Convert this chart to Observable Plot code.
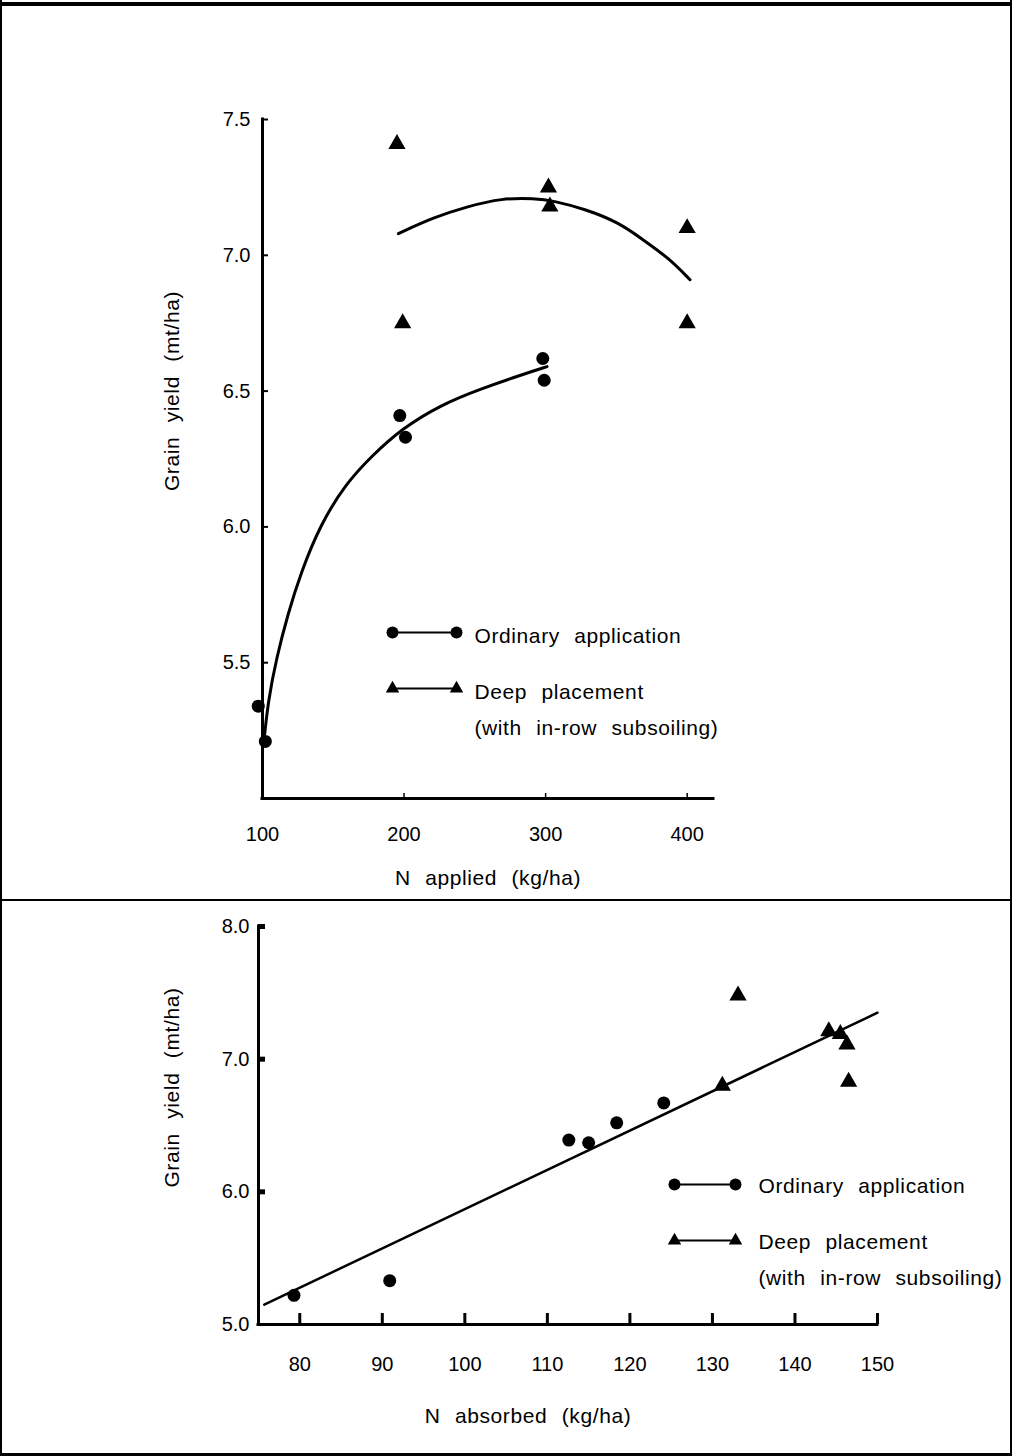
<!DOCTYPE html>
<html><head><meta charset="utf-8">
<script src="https://cdn.jsdelivr.net/npm/d3@7"></script>
<script src="https://cdn.jsdelivr.net/npm/@observablehq/plot@0.6"></script>
<style>
html,body{margin:0;padding:0;background:#fff;}
#page{position:relative;width:1012px;height:1456px;overflow:hidden;background:#fff;}
#page svg{position:absolute;left:0;}
.bar{position:absolute;background:#000;}
</style></head><body><div id="page"></div>
<script>
// ---------- Panel A: N applied ----------
const appliedOrdX = [97, 102, 197, 201, 298, 299];
const appliedOrdY = [5.34, 5.21, 6.41, 6.33, 6.62, 6.54];
const appliedDeepX = [195, 199, 302, 303, 400, 400];
const appliedDeepY = [7.41, 6.75, 7.25, 7.18, 7.10, 6.75];
const appliedOrdCurveX = [101, 104, 110, 118, 127, 141, 159, 177, 198, 226, 255, 283, 301];
const appliedOrdCurveY = [5.21, 5.36, 5.52, 5.68, 5.83, 6.01, 6.16, 6.26, 6.36, 6.45, 6.51, 6.56, 6.59];
const appliedDeepCurveX = [196, 221, 245, 269, 292, 306, 328, 352, 368, 387, 402];
const appliedDeepCurveY = [7.08, 7.14, 7.18, 7.21, 7.21, 7.20, 7.17, 7.12, 7.06, 6.99, 6.91];
const appliedXTicks = [100, 200, 300, 400];
const appliedYTicks = [5.5, 6.0, 6.5, 7.0, 7.5];

// ---------- Panel B: N absorbed ----------
const absorbedOrdX = [79.3, 90.9, 112.6, 115.0, 118.4, 124.1];
const absorbedOrdY = [5.22, 5.33, 6.39, 6.37, 6.52, 6.67];
const absorbedDeepX = [133.1, 131.2, 144.1, 145.5, 146.3, 146.5];
const absorbedDeepY = [7.48, 6.80, 7.21, 7.19, 7.11, 6.83];
const absorbedFitX = [75.7, 150];
const absorbedFitY = [5.15, 7.35];
const absorbedXTicks = [80, 90, 100, 110, 120, 130, 140, 150];
const absorbedYTicks = [5.0, 6.0, 7.0, 8.0];

// ---------- Legend ----------
const legendKeys = ["ord", "deep"];
const legendLabels = ["Ordinary application", "Deep placement\n(with in-row subsoiling)"];

const yTitle = "Grain yield (mt/ha)";
const xTitleA = "N applied (kg/ha)";
const xTitleB = "N absorbed (kg/ha)";

const zip = (xs, ys) => xs.map((x, i) => ({x, y: ys[i]}));
const font = "'Liberation Sans', Arial, sans-serif";
const baseStyle = {fontFamily: font, fontSize: "20px", color: "#000", background: "transparent", overflow: "visible", letterSpacing: "0.6px", wordSpacing: "8px"};
const page = document.getElementById("page");

function place(svg, topPx) {
  svg.style.top = topPx + "px";
  d3.select(svg).selectAll('g[aria-label$="tick label"]').style("letter-spacing", "0px").style("word-spacing", "0px");
  page.appendChild(svg);
}

// Panel A
const frameWA = 451, frameHA = 679;
const plotA = Plot.plot({
  width: 1012, height: 900,
  marginLeft: 262, marginRight: 299, marginTop: 119, marginBottom: 102,
  x: {domain: [100, 418.6], label: null},
  y: {domain: [5.0, 7.5], label: null},
  style: baseStyle,
  marks: [
    Plot.axisX({ticks: appliedXTicks, tickSize: 0, tickPadding: 28, tickFormat: d => String(d), label: null}),
    Plot.axisY({ticks: appliedYTicks, tickSize: 0, tickPadding: 12, tickFormat: d3.format(".1f"), label: null}),
    Plot.tickY(appliedYTicks, {y: d => d, insetRight: frameWA - 6, strokeWidth: 2}),
    Plot.tickX(appliedXTicks.slice(1), {x: d => d, insetTop: frameHA - 5, strokeWidth: 1.5}),
    Plot.ruleX([100], {strokeWidth: 3, strokeLinecap: "square"}),
    Plot.ruleY([5.0], {strokeWidth: 3, strokeLinecap: "square"}),
    Plot.line(zip(appliedOrdCurveX, appliedOrdCurveY), {x: "x", y: "y", curve: "basis", strokeWidth: 3}),
    Plot.line(zip(appliedDeepCurveX, appliedDeepCurveY), {x: "x", y: "y", curve: "basis", strokeWidth: 3}),
    Plot.dot(zip(appliedOrdX, appliedOrdY), {x: "x", y: "y", r: 6.5, fill: "#000", stroke: null}),
    Plot.dot(zip(appliedDeepX, appliedDeepY), {x: "x", y: "y", symbol: "triangle", r: 6.4, fill: "#000", stroke: null}),
    Plot.text([yTitle], {frameAnchor: "left", textAnchor: "middle", dx: -90, dy: -68, rotate: -90, fontSize: 21}),
    Plot.text([xTitleA], {frameAnchor: "bottom", dy: 86, fontSize: 21})
  ]
});
place(plotA, 0);

// Panel B
const frameWB = 619, frameHB = 398;
const plotB = Plot.plot({
  width: 1012, height: 556,
  marginLeft: 258, marginRight: 135, marginTop: 26, marginBottom: 132,
  x: {domain: [75, 150], label: null},
  y: {domain: [5.0, 8.0], label: null},
  style: baseStyle,
  marks: [
    Plot.axisX({ticks: absorbedXTicks, tickSize: 0, tickPadding: 32, tickFormat: d => String(d), label: null}),
    Plot.axisY({ticks: absorbedYTicks, tickSize: 0, tickPadding: 9, tickFormat: d3.format(".1f"), label: null}),
    Plot.tickX(absorbedXTicks, {x: d => d, insetTop: frameHB - 11, strokeWidth: 3}),
    Plot.tickY(absorbedYTicks.slice(1), {y: d => d, insetRight: frameWB - 7, strokeWidth: 5}),
    Plot.ruleX([75], {strokeWidth: 3, strokeLinecap: "square"}),
    Plot.ruleY([5.0], {strokeWidth: 3, strokeLinecap: "square"}),
    Plot.line(zip(absorbedFitX, absorbedFitY), {x: "x", y: "y", strokeWidth: 2.5}),
    Plot.dot(zip(absorbedOrdX, absorbedOrdY), {x: "x", y: "y", r: 6.5, fill: "#000", stroke: null}),
    Plot.dot(zip(absorbedDeepX, absorbedDeepY), {x: "x", y: "y", symbol: "triangle", r: 6.4, fill: "#000", stroke: null}),
    Plot.text([yTitle], {frameAnchor: "left", textAnchor: "middle", dx: -86, dy: -38, rotate: -90, fontSize: 21}),
    Plot.text([xTitleB], {frameAnchor: "bottom", dx: -40, dy: 98, fontSize: 21})
  ]
});
place(plotB, 900);

// Legends (own small scales, overlaid on each panel)
function legend(height, xRange, yRange, textGap, dy) {
  const ends = legendKeys.flatMap(k => [{k, x: 0}, {k, x: 1}]);
  return Plot.plot({
    width: 1012, height,
    x: {domain: [0, 1], range: xRange, axis: null},
    y: {type: "point", domain: legendKeys, range: yRange, padding: 0, axis: null},
    style: baseStyle,
    marks: [
      Plot.ruleY(legendKeys, {y: d => d, x1: 0, x2: 1, strokeWidth: 2}),
      Plot.dot(ends.filter(d => d.k === "ord"), {x: "x", y: "k", r: 6, fill: "#000", stroke: null}),
      Plot.dot(ends.filter(d => d.k === "deep"), {x: "x", y: "k", symbol: "triangle", r: 5, fill: "#000", stroke: null}),
      Plot.text(legendKeys, {y: d => d, x: 1, dx: textGap, text: (d, i) => legendLabels[i], textAnchor: "start", lineAnchor: "top", dy, lineHeight: 1.7, fontSize: 21})
    ]
  });
}
place(legend(900, [392, 456], [632, 688], 18, -15), 0);
place(legend(556, [674, 735], [284, 340], 23, -17), 900);

// Frame lines
[
  {l: 0, t: 2, w: 1012, h: 4},
  {l: 0, t: 0, w: 2, h: 1456},
  {l: 1010, t: 0, w: 2, h: 1456},
  {l: 0, t: 1453, w: 1012, h: 3},
  {l: 0, t: 899, w: 1012, h: 2}
].forEach(b => {
  const d = document.createElement("div");
  d.className = "bar";
  Object.assign(d.style, {left: b.l + "px", top: b.t + "px", width: b.w + "px", height: b.h + "px"});
  page.appendChild(d);
});
</script></body></html>
